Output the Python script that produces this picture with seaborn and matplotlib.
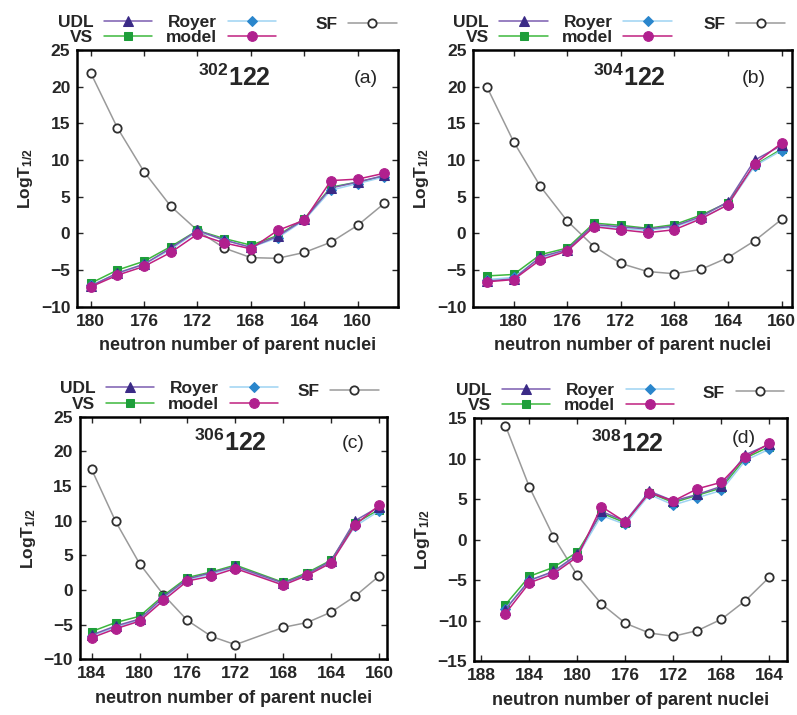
import matplotlib
matplotlib.use("Agg")
import matplotlib.pyplot as plt
import seaborn as sns

sns.set_theme(style="ticks")
plt.rcParams['font.family'] = ['Liberation Sans', 'DejaVu Sans']
plt.rcParams['font.weight'] = 'bold'
plt.rcParams['mathtext.fontset'] = 'custom'
plt.rcParams['mathtext.rm'] = 'Liberation Sans:bold'
plt.rcParams['mathtext.it'] = 'Liberation Sans:bold'
plt.rcParams['mathtext.bf'] = 'Liberation Sans:bold'

# ---- data ----
# (a) 302-122
n_a = [180, 178, 176, 174, 172, 170, 168, 166, 164, 162, 160, 158]
sf_a = [21.9, 14.4, 8.4, 3.7, 0.4, -2.0, -3.3, -3.4, -2.6, -1.2, 1.1, 4.1]
udl_a = [-7.2, -5.4, -4.2, -2.0, 0.4, -0.9, -1.9, -0.4, 1.9, 6.2, 7.0, 7.9]
vs_a = [-6.8, -5.0, -3.8, -1.8, 0.4, -0.7, -1.6, -0.3, 2.0, 6.3, 7.0, 7.8]
royer_a = [-7.1, -5.5, -4.2, -2.2, 0.3, -0.9, -1.9, -0.6, 1.8, 5.9, 6.8, 7.7]
model_a = [-7.3, -5.7, -4.5, -2.6, -0.1, -1.3, -2.1, 0.4, 1.8, 7.2, 7.4, 8.2]

# (b) 304-122
n_b = [182, 180, 178, 176, 174, 172, 170, 168, 166, 164, 162, 160]
sf_b = [20.0, 12.5, 6.4, 1.7, -1.8, -4.1, -5.2, -5.5, -4.9, -3.3, -1.0, 1.9]
udl_b = [-6.5, -6.2, -3.2, -2.2, 1.2, 0.9, 0.6, 1.0, 2.3, 4.3, 10.0, 12.0]
vs_b = [-5.8, -5.6, -2.9, -2.0, 1.4, 1.1, 0.7, 1.2, 2.5, 4.2, 9.3, 11.5]
royer_b = [-6.3, -6.0, -3.3, -2.4, 1.0, 0.7, 0.4, 0.9, 2.1, 3.9, 9.2, 11.3]
model_b = [-6.6, -6.3, -3.6, -2.4, 0.9, 0.5, 0.1, 0.5, 2.0, 3.9, 9.5, 12.3]

# (c) 306-122
n_c = [184, 182, 180, 178, 176, 174, 172, 168, 166, 164, 162, 160]
sf_c = [17.4, 9.9, 3.8, -0.7, -4.4, -6.7, -7.9, -5.4, -4.7, -3.2, -0.9, 2.0]
udl_c = [-6.5, -5.2, -4.2, -1.0, 1.6, 2.5, 3.4, 1.0, 2.3, 4.2, 10.0, 12.0]
vs_c = [-6.0, -4.7, -3.8, -0.8, 1.8, 2.6, 3.6, 1.1, 2.5, 4.3, 9.6, 11.6]
royer_c = [-6.6, -5.4, -4.3, -1.2, 1.5, 2.3, 3.3, 0.8, 2.2, 4.0, 9.2, 11.4]
model_c = [-6.9, -5.6, -4.5, -1.5, 1.3, 2.0, 3.1, 0.7, 2.1, 3.9, 9.4, 12.2]

# (d) 308-122
n_d = [186, 184, 182, 180, 178, 176, 174, 172, 170, 168, 166, 164]
sf_d = [14.1, 6.5, 0.4, -4.4, -7.9, -10.3, -11.5, -11.9, -11.2, -9.8, -7.5, -4.6]
udl_d = [-8.6, -5.0, -3.9, -1.8, 3.5, 2.3, 6.0, 4.8, 5.6, 6.6, 10.5, 11.8]
vs_d = [-8.0, -4.5, -3.4, -1.5, 3.3, 2.1, 5.8, 4.6, 5.5, 6.4, 10.1, 11.5]
royer_d = [-8.5, -5.0, -4.0, -2.0, 3.0, 1.9, 5.6, 4.3, 5.2, 6.1, 9.8, 11.2]
model_d = [-9.1, -5.3, -4.2, -2.1, 4.1, 2.2, 5.8, 4.8, 6.3, 7.1, 10.2, 11.9]

panels = [
    dict(n=n_a, sf=sf_a, udl=udl_a, vs=vs_a, royer=royer_a, model=model_a,
         mass='302', tag='(a)', xlim=(181, 157), xticks=[180, 176, 172, 168, 164, 160],
         ylim=(-10, 25), pos=[0.097, 0.571, 0.402, 0.359], tagpos=(0.90, 0.87),
         leg=(0.28, 0.87)),
    dict(n=n_b, sf=sf_b, udl=udl_b, vs=vs_b, royer=royer_b, model=model_b,
         mass='304', tag='(b)', xlim=(183, 159.2), xticks=[180, 176, 172, 168, 164, 160],
         ylim=(-10, 25), pos=[0.594, 0.571, 0.400, 0.359], tagpos=(0.88, 0.87),
         leg=(0.28, 0.85)),
    dict(n=n_c, sf=sf_c, udl=udl_c, vs=vs_c, royer=royer_c, model=model_c,
         mass='306', tag='(c)', xlim=(185, 159.3), xticks=[184, 180, 176, 172, 168, 164, 160],
         ylim=(-10, 25), pos=[0.100, 0.078, 0.386, 0.339], tagpos=(0.89, 0.87),
         leg=(0.29, 0.84)),
    dict(n=n_d, sf=sf_d, udl=udl_d, vs=vs_d, royer=royer_d, model=model_d,
         mass='308', tag='(d)', xlim=(188.6, 162.5), xticks=[188, 184, 180, 176, 172, 168, 164],
         ylim=(-15, 15), pos=[0.595, 0.075, 0.393, 0.340], tagpos=(0.86, 0.90),
         leg=(0.29, 0.86)),
]

fig = plt.figure(figsize=(7.97, 7.15), dpi=100)

for p in panels:
    ax = fig.add_axes(p['pos'])
    sns.lineplot(x=p['n'], y=p['sf'], ax=ax, color='#9a9a9a', lw=1.1, marker='o', ms=6,
                 mfc='white', mec='#303030', mew=1.3, label='SF', zorder=2)
    sns.lineplot(x=p['n'], y=p['vs'], ax=ax, color='#3db83d', lw=1.1, marker='s', ms=5.5,
                 mfc='#1e9e3a', mec='#1e9e3a', label='VS', zorder=3)
    sns.lineplot(x=p['n'], y=p['royer'], ax=ax, color='#9ed3f2', lw=1.1, marker='D', ms=5,
                 mfc='#2a86cc', mec='#2a86cc', label='Royer', zorder=4)
    sns.lineplot(x=p['n'], y=p['udl'], ax=ax, color='#7a5cb0', lw=1.1, marker='^', ms=6.5,
                 mfc='#3a2a86', mec='#3a2a86', label='UDL', zorder=5)
    sns.lineplot(x=p['n'], y=p['model'], ax=ax, color='#c02080', lw=1.1, marker='o', ms=7,
                 mfc='#b0208e', mec='#b0208e', label='model', zorder=6)

    ax.set_xlim(*p['xlim'])
    ax.set_xticks(p['xticks'])
    ax.set_ylim(*p['ylim'])
    ax.set_yticks(range(p['ylim'][0], p['ylim'][1] + 1, 5))
    ax.tick_params(direction='in', top=True, right=True, length=4, width=1,
                   labelsize=12.5, pad=5)
    for lab in ax.get_xticklabels() + ax.get_yticklabels():
        lab.set_fontweight('bold')
    for s in ax.spines.values():
        s.set_linewidth(1.8)
        s.set_color('black')
    ax.set_xlabel('neutron number of parent nuclei', fontsize=13, fontweight='bold', labelpad=6)
    ax.set_ylabel('LogT$_{1/2}$', fontsize=12.5, fontweight='bold', labelpad=4)

    ax.text(0.49, 0.86, '$^{' + p['mass'] + '}$122', transform=ax.transAxes,
            ha='center', va='baseline', fontsize=18, fontweight='bold')
    ax.text(p['tagpos'][0], p['tagpos'][1], p['tag'], transform=ax.transAxes,
            ha='center', va='baseline', fontsize=14, fontweight='normal')

    handles, labels = ax.get_legend_handles_labels()
    hmap = dict(zip(labels, handles))
    common = dict(frameon=False, markerfirst=False, handlelength=2.8, labelspacing=0.0,
                  handletextpad=0.6, prop={'weight': 'bold', 'size': 12.5},
                  borderaxespad=0.1, borderpad=0.2)
    order = ['UDL', 'VS', 'Royer', 'model']
    leg1 = ax.legend([hmap[k] for k in order], order, loc='lower center',
                     bbox_to_anchor=(p['leg'][0], 1.0), ncol=2, columnspacing=0.8, **common)
    ax.add_artist(leg1)
    sf_off = 12.5 / (p['pos'][3] * 715)
    ax.legend([hmap['SF']], ['SF'], loc='lower center',
              bbox_to_anchor=(p['leg'][1], 1.0 + sf_off), ncol=1, **common)

fig.savefig('out.png', dpi=100)
